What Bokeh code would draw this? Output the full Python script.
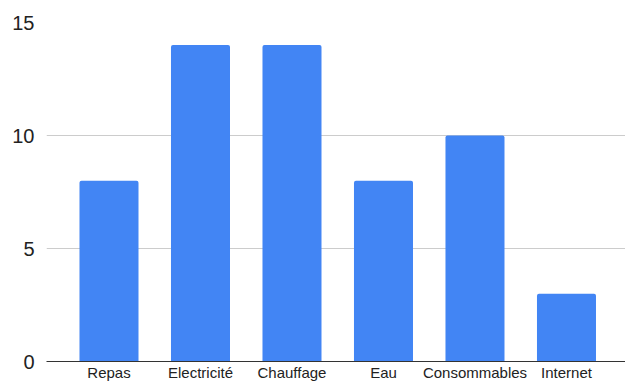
from bokeh.plotting import figure
from bokeh.models import Range1d, FixedTicker, ColumnDataSource
from bokeh.embed import file_html
from bokeh.resources import INLINE

categories = ["Repas", "Electricité", "Chauffage", "Eau", "Consommables", "Internet"]
values = [8, 14, 14, 8, 10, 3]
y_ticks = [0, 5, 10, 15]

xs = list(range(len(categories)))
src = ColumnDataSource(dict(x=xs, top=values, cat=categories))

p = figure(width=625, height=383, output_backend="svg", toolbar_location=None,
           x_range=Range1d(-0.683, 5.645), y_range=Range1d(0, 15),
           min_border_left=46, min_border_right=0, min_border_top=22, min_border_bottom=20)
p.outline_line_color = None
p.background_fill_color = "white"
p.border_fill_color = "white"

p.vbar(x="x", top="top", width=0.645, bottom=0, source=src,
       fill_color="#4285F4", line_color=None, border_radius=[2, 2, 0, 0])

font = "Liberation Sans"
p.yaxis.ticker = FixedTicker(ticks=y_ticks)
p.yaxis.axis_line_color = None
p.yaxis.major_tick_line_color = None
p.yaxis.minor_tick_line_color = None
p.yaxis.major_tick_out = 0
p.yaxis.major_label_standoff = 12
p.yaxis.major_label_text_font = font
p.yaxis.major_label_text_font_size = "20px"
p.yaxis.major_label_text_color = "#222222"

p.xaxis.ticker = FixedTicker(ticks=xs)
p.xaxis.major_label_overrides = {i: c for i, c in zip(xs, categories)}
p.xaxis.axis_line_color = "#333333"
p.xaxis.axis_line_width = 1
p.xaxis.major_tick_line_color = None
p.xaxis.minor_tick_line_color = None
p.xaxis.major_tick_out = 0
p.xaxis.major_label_standoff = 2
p.xaxis.major_label_text_font = font
p.xaxis.major_label_text_font_size = "15px"
p.xaxis.major_label_text_color = "#222222"

p.xgrid.grid_line_color = None
p.ygrid.ticker = FixedTicker(ticks=y_ticks)
p.ygrid.grid_line_color = "#cccccc"
p.ygrid.grid_line_width = 1

open("out.html", "w").write(file_html(p, INLINE))
